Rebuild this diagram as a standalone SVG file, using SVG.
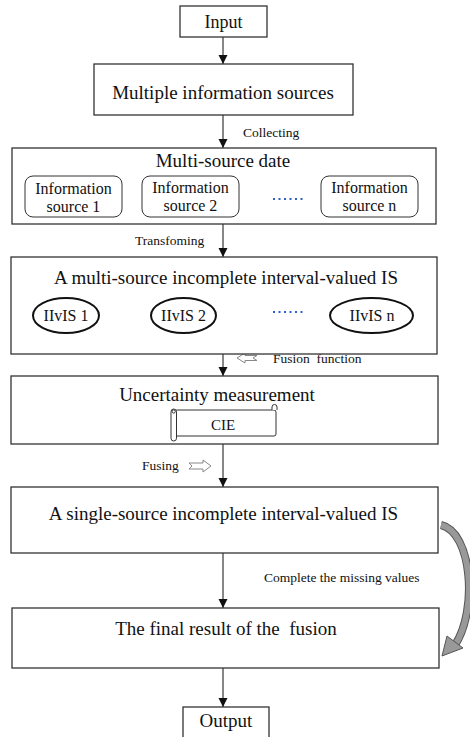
<svg xmlns="http://www.w3.org/2000/svg" width="470" height="737" viewBox="0 0 470 737">
<defs>
<style>
.box{fill:#fff;stroke:#333;stroke-width:1.3}
.sub{fill:#fff;stroke:#333;stroke-width:1}
.ell{fill:#fff;stroke:#111;stroke-width:2}
.t{font-family:"Liberation Serif","Times New Roman",serif;fill:#111;text-anchor:middle}
.big{font-size:19px}
.mid{font-size:16px}
.sm{font-size:13.5px;text-anchor:start}
.ln{stroke:#111;stroke-width:1;fill:none}
.dots{stroke:#2f5fc0;stroke-width:2;stroke-dasharray:2 3.5;fill:none}
.hollow{fill:#fff;stroke:#888;stroke-width:1}
</style>
<marker id="ah" markerWidth="10" markerHeight="10" refX="9" refY="5" orient="auto" markerUnits="userSpaceOnUse">
<path d="M0,0.5 L9,5 L0,9.5 Z" fill="#111"/>
</marker>
</defs>
<rect width="470" height="737" fill="#fff"/>

<g id="connectors">
<line class="ln" x1="223" y1="37" x2="223" y2="64" marker-end="url(#ah)"/>
<line class="ln" x1="223" y1="115" x2="223" y2="148" marker-end="url(#ah)"/>
<line class="ln" x1="223" y1="224" x2="223" y2="257" marker-end="url(#ah)"/>
<line class="ln" x1="223" y1="354" x2="223" y2="376" marker-end="url(#ah)"/>
<line class="ln" x1="223" y1="444" x2="223" y2="487" marker-end="url(#ah)"/>
<line class="ln" x1="223" y1="553" x2="223" y2="608" marker-end="url(#ah)"/>
<line class="ln" x1="223" y1="668" x2="223" y2="707" marker-end="url(#ah)"/>
<text class="t sm" x="243" y="137">Collecting</text>
<text class="t sm" x="135" y="245">Transfoming</text>
<polygon class="hollow" points="237,358 245,353 245,355.5 257,355.5 253,358 257,360.5 245,360.5 245,363"/>
<text class="t sm" x="273" y="363" xml:space="preserve">Fusion  function</text>
<text class="t sm" x="142" y="470">Fusing</text>
<polygon class="hollow" points="211,466 203,460 203,463 189,463 192,466 189,469 203,469 203,472"/>
<text class="t sm" x="264" y="582">Complete the missing values</text>
<g id="loop">
<path d="M441,525 C472,532 478,610 455,645" fill="none" stroke="#555" stroke-width="8"/>
<path d="M441,525 C472,532 478,610 455,645" fill="none" stroke="#999" stroke-width="6"/>
<polygon points="442,656 447,636 463,648" fill="#999" stroke="#555" stroke-width="1"/>
</g>
</g>

<g id="input">
<rect class="box" x="180" y="6" width="87" height="31"/>
<text class="t" x="223.5" y="28" font-size="18">Input</text>
</g>

<g id="sources">
<rect class="box" x="94" y="64" width="259" height="51"/>
<text class="t big" x="223" y="99">Multiple information sources</text>
</g>

<g id="multisource">
<rect class="box" x="12" y="148" width="424" height="76"/>
<text class="t big" x="223" y="167">Multi-source date</text>
<g id="info1">
<rect class="sub" x="25" y="176" width="97" height="41" rx="8"/>
<text class="t mid" x="73.5" y="194">Information</text>
<text class="t mid" x="73.5" y="212">source 1</text>
</g>
<g id="info2">
<rect class="sub" x="142" y="176" width="97" height="41" rx="8"/>
<text class="t mid" x="190.5" y="193">Information</text>
<text class="t mid" x="190.5" y="211">source 2</text>
</g>
<path class="dots" d="M273,199 H306"/>
<g id="infon">
<rect class="sub" x="321" y="176" width="97" height="41" rx="8"/>
<text class="t mid" x="369.5" y="193">Information</text>
<text class="t mid" x="369.5" y="211">source n</text>
</g>
</g>

<g id="incomplete">
<rect class="box" x="11" y="257" width="426" height="97"/>
<text class="t big" x="226" y="284" font-size="19.5">A multi-source incomplete interval-valued IS</text>
<g id="iivis1">
<ellipse class="ell" cx="66" cy="315.5" rx="33" ry="17.5"/>
<text class="t mid" x="66" y="321">IIvIS 1</text>
</g>
<g id="iivis2">
<ellipse class="ell" cx="183.5" cy="315.5" rx="32.5" ry="17.5"/>
<text class="t mid" x="183.5" y="321">IIvIS 2</text>
</g>
<path class="dots" d="M273,312 H306"/>
<g id="iivisn">
<ellipse class="ell" cx="371.5" cy="315.5" rx="41.5" ry="17.5"/>
<text class="t mid" x="372" y="321">IIvIS n</text>
</g>
</g>

<g id="uncertainty">
<rect class="box" x="11" y="376" width="427" height="68"/>
<text class="t big" x="217" y="401">Uncertainty measurement</text>
<g id="cie">
<rect class="sub" x="175" y="410" width="101" height="26" rx="2"/>
<path class="sub" d="M272,410 V407 a2.5,2.5 0 0 1 5,0 V410"/>
<rect class="sub" x="171" y="409" width="5.5" height="32" rx="2.75"/>
<circle class="sub" cx="173.7" cy="411.5" r="1.6"/>
<text class="t" x="223" y="430" font-size="15">CIE</text>
</g>
</g>

<g id="single">
<rect class="box" x="11" y="487" width="427" height="66"/>
<text class="t big" x="223.5" y="520" font-size="19.5">A single-source incomplete interval-valued IS</text>
</g>

<g id="final">
<rect class="box" x="12" y="608" width="427" height="60"/>
<text class="t big" x="226" y="635" xml:space="preserve">The final result of the  fusion</text>
</g>

<g id="output">
<rect class="box" x="183" y="707" width="86" height="40"/>
<text class="t big" x="226" y="727">Output</text>
</g>
</svg>
